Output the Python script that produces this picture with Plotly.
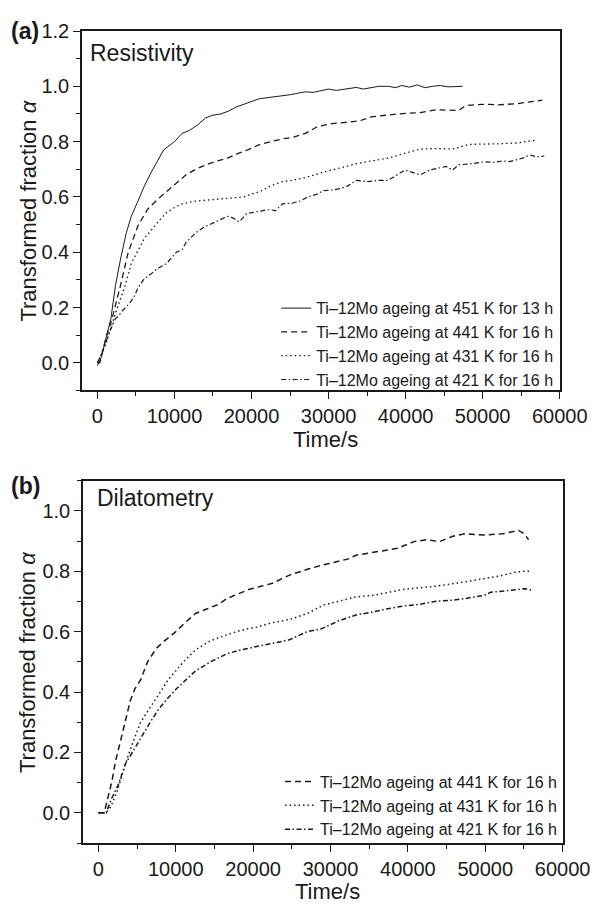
import plotly.graph_objects as go

# ---------------- Panel (a): Resistivity ----------------
t_a451 = [0, 500, 900, 1300, 1750, 2350, 3000, 3750, 4400, 5500, 6100, 7000, 8600, 10000, 11000, 11900,
          13000, 14000, 14900, 16000, 17000, 18000, 19000, 20000, 21000, 22400, 23500, 25100, 26000, 27000,
          28000, 29000, 30000, 31000, 32000, 33600, 34500, 35500, 36500, 37750, 38700, 39500, 40500, 41500,
          42500, 43500, 44500, 45500, 46500, 47400]
a_a451 = [-0.01, 0.02, 0.065, 0.11, 0.16, 0.28, 0.375, 0.47, 0.53, 0.60, 0.64, 0.69, 0.77, 0.80, 0.83, 0.84,
          0.86, 0.885, 0.895, 0.90, 0.91, 0.925, 0.935, 0.945, 0.955, 0.96, 0.963, 0.97, 0.975, 0.98,
          0.978, 0.985, 0.99, 0.985, 0.99, 0.996, 0.99, 0.995, 1.0, 1.0, 0.995, 1.003, 0.997, 1.005,
          0.995, 1.0, 1.003, 0.998, 1.0, 1.0]

t_a441 = [0, 300, 1100, 1900, 3000, 4000, 5250, 6500, 7750, 8600, 10000, 11500, 12750, 14000, 15500, 16900,
          18000, 19500, 21100, 22500, 24000, 25250, 27000, 28600, 30500, 32350, 34000, 35700, 37500, 39000,
          41900, 44000, 46900, 47750, 50000, 52000, 54400, 56000, 57750]
a_a441 = [0.0, 0.0, 0.09, 0.16, 0.28, 0.40, 0.495, 0.555, 0.59, 0.61, 0.645, 0.68, 0.70, 0.715, 0.73, 0.74,
          0.755, 0.77, 0.79, 0.80, 0.81, 0.815, 0.83, 0.855, 0.865, 0.87, 0.875, 0.89, 0.895, 0.90,
          0.905, 0.915, 0.913, 0.93, 0.935, 0.933, 0.937, 0.942, 0.95]

t_a431 = [0, 1000, 2350, 3600, 4400, 6100, 7750, 8800, 9900, 11000, 12750, 14000, 15500, 17000, 19000, 20000,
          21100, 22500, 24000, 25250, 27000, 29400, 31500, 33600, 35500, 37750, 39500, 41900, 44000, 46100,
          48200, 50250, 52000, 54400, 57100]
a_a431 = [0.0, 0.06, 0.18, 0.28, 0.36, 0.45, 0.505, 0.54, 0.56, 0.575, 0.585, 0.588, 0.59, 0.595, 0.60, 0.61,
          0.62, 0.64, 0.655, 0.66, 0.67, 0.69, 0.705, 0.72, 0.73, 0.74, 0.755, 0.773, 0.775, 0.773,
          0.79, 0.79, 0.792, 0.795, 0.806]

t_a421 = [0, 500, 1100, 1700, 2350, 2750, 3300, 4000, 4700, 5250, 6100, 6900, 7750, 9000, 10250, 11000, 11500,
          12750, 13800, 14900, 15800, 16900, 17500, 18400, 19400, 21100, 22400, 23100, 24000, 25250, 26300,
          27300, 28500, 29400, 30500, 31500, 32500, 33600, 35000, 36500, 37750, 39900, 41900, 43100, 45250,
          46100, 46900, 48500, 50250, 51500, 52500, 53500, 54400, 55200, 56100, 57000, 58000]
a_a421 = [0.0, 0.03, 0.075, 0.12, 0.16, 0.17, 0.19, 0.21, 0.235, 0.27, 0.305, 0.32, 0.34, 0.36, 0.40, 0.41, 0.435,
          0.47, 0.49, 0.505, 0.515, 0.53, 0.525, 0.51, 0.54, 0.55, 0.555, 0.55, 0.575, 0.577, 0.585,
          0.60, 0.61, 0.623, 0.625, 0.63, 0.64, 0.66, 0.655, 0.66, 0.66, 0.697, 0.68, 0.697, 0.71,
          0.697, 0.716, 0.72, 0.727, 0.725, 0.73, 0.728, 0.734, 0.74, 0.752, 0.745, 0.748]

# ---------------- Panel (b): Dilatometry ----------------
t_b441 = [0, 750, 1750, 2200, 2850, 3450, 4100, 4700, 5450, 6350, 7500, 8450, 10000, 11000, 12550, 14000,
          15500, 16650, 18000, 19500, 21000, 22500, 24700, 27200, 29700, 32200, 33300, 35800, 38700, 40800,
          42400, 44100, 45700, 47400, 49800, 52300, 53500, 54300, 55000, 55600]
a_b441 = [0.0, 0.0, 0.105, 0.17, 0.237, 0.30, 0.37, 0.41, 0.44, 0.50, 0.545, 0.567, 0.60, 0.625, 0.66, 0.675,
          0.69, 0.71, 0.725, 0.74, 0.75, 0.76, 0.787, 0.808, 0.825, 0.84, 0.853, 0.863, 0.876, 0.898,
          0.904, 0.898, 0.915, 0.924, 0.92, 0.924, 0.93, 0.935, 0.925, 0.904]

t_b431 = [0, 1000, 1600, 2400, 3000, 3850, 4700, 5450, 6350, 7600, 8000, 9000, 10000, 11000, 12550, 14500,
          16650, 18500, 20500, 22500, 24700, 27000, 29100, 31000, 33300, 35500, 37400, 39500, 41500, 43500,
          45700, 47500, 49800, 52000, 54000, 55000, 56000]
a_b431 = [0.0, 0.0, 0.02, 0.07, 0.12, 0.19, 0.25, 0.30, 0.335, 0.385, 0.40, 0.44, 0.47, 0.50, 0.54, 0.57,
          0.59, 0.605, 0.615, 0.63, 0.64, 0.66, 0.688, 0.70, 0.715, 0.72, 0.73, 0.74, 0.745, 0.75,
          0.758, 0.765, 0.775, 0.785, 0.797, 0.80, 0.80]

t_b421 = [0, 1000, 1750, 2600, 3450, 4700, 5950, 6700, 7700, 8800, 10050, 11700, 12550, 14500, 16650, 18500,
          20500, 22500, 24700, 27000, 28900, 31000, 33300, 35500, 37400, 39500, 41500, 43500, 45700, 47500,
          49800, 50700, 52500, 54000, 55200, 56000]
a_b421 = [0.0, 0.0, 0.05, 0.095, 0.16, 0.215, 0.27, 0.30, 0.34, 0.375, 0.41, 0.45, 0.47, 0.50, 0.527, 0.54,
          0.55, 0.56, 0.573, 0.60, 0.61, 0.635, 0.655, 0.665, 0.676, 0.685, 0.69, 0.70, 0.704, 0.71,
          0.72, 0.73, 0.735, 0.74, 0.742, 0.737]

names_a = ["Ti–12Mo ageing at 451 K for 13 h", "Ti–12Mo ageing at 441 K for 16 h",
           "Ti–12Mo ageing at 431 K for 16 h", "Ti–12Mo ageing at 421 K for 16 h"]
names_b = names_a[1:]

FONT = "Liberation Sans, Arial, Helvetica, sans-serif"
INK = "#1a1a1a"
DASH = "6px,4px"
DOT = "1.5px,3px"
DASHDOT = "5px,2.5px,1.5px,2.5px"

fig = go.Figure()

series_a = [(t_a451, a_a451, "solid", 1.0), (t_a441, a_a441, DASH, 1.3),
            (t_a431, a_a431, DOT, 1.3), (t_a421, a_a421, DASHDOT, 1.2)]
for (t, a, d, w), n in zip(series_a, names_a):
    fig.add_trace(go.Scatter(x=t, y=a, mode="lines", name=n, xaxis="x", yaxis="y",
                             line=dict(color=INK, width=w, dash=d), legend="legend"))

series_b = [(t_b441, a_b441, DASH, 1.5), (t_b431, a_b431, DOT, 1.5), (t_b421, a_b421, DASHDOT, 1.5)]
for (t, a, d, w), n in zip(series_b, names_b):
    fig.add_trace(go.Scatter(x=t, y=a, mode="lines", name=n, xaxis="x2", yaxis="y2",
                             line=dict(color=INK, width=w, dash=d), legend="legend2"))

axis_common = dict(showline=True, mirror=True, linecolor=INK, linewidth=1.5, ticks="outside",
                   ticklen=7, tickwidth=1.3, tickcolor=INK, showgrid=False, zeroline=False,
                   ticklabeloverflow="allow",
                   tickfont=dict(family=FONT, size=20, color=INK))

# the page body has an 8px default margin, so the figure is 16px smaller than the window
fig.update_layout(
    width=594, height=896, paper_bgcolor="white", plot_bgcolor="white",
    margin=dict(l=74, r=20, t=15, b=61),
    font=dict(family=FONT, color=INK),
    xaxis=dict(domain=[0, 0.994], range=[-2000, 60050], dtick=10000, tick0=0, tickformat="d", anchor="y",
               minor=dict(ticks="outside", dtick=5000, ticklen=4, tickcolor=INK), **axis_common),
    yaxis=dict(domain=[0.5573, 1.0], range=[-0.1, 1.2], dtick=0.2, tick0=0, tickformat=".1f", anchor="x",
               minor=dict(ticks="outside", dtick=0.1, ticklen=4, tickcolor=INK), **axis_common),
    xaxis2=dict(domain=[0.002, 1.0], range=[-2000, 60050], dtick=10000, tick0=0, tickformat="d", anchor="y2",
                minor=dict(ticks="outside", dtick=5000, ticklen=4, tickcolor=INK), **axis_common),
    yaxis2=dict(domain=[0, 0.4463], range=[-0.1, 1.1], dtick=0.2, tick0=0, tickformat=".1f", anchor="x2",
                minor=dict(ticks="outside", dtick=0.1, ticklen=4, tickcolor=INK), **axis_common),
    legend=dict(x=0.99, y=0.549, xanchor="right", yanchor="bottom", bgcolor="rgba(0,0,0,0)",
                font=dict(family=FONT, size=16, color=INK), tracegroupgap=0, itemwidth=30),
    legend2=dict(x=0.998, y=-0.0045, xanchor="right", yanchor="bottom", bgcolor="rgba(0,0,0,0)",
                 font=dict(family=FONT, size=16, color=INK), tracegroupgap=0, itemwidth=30),
    showlegend=True,
)

ann = [
    dict(text="<b>(a)</b>", x=-0.152, y=1.0, xanchor="left", yanchor="middle", font=dict(size=23)),
    dict(text="<b>(b)</b>", x=-0.152, y=0.4396, xanchor="left", yanchor="middle", font=dict(size=23)),
    dict(text="Resistivity", x=0.012, y=0.973, xanchor="left", yanchor="middle", font=dict(size=23)),
    dict(text="Dilatometry", x=0.026, y=0.4244, xanchor="left", yanchor="middle", font=dict(size=23)),
    dict(text="Time/s", x=0.506, y=0.497, xanchor="center", yanchor="middle", font=dict(size=22)),
    dict(text="Time/s", x=0.51, y=-0.0595, xanchor="center", yanchor="middle", font=dict(size=22)),
    dict(text="Transformed fraction <i>α</i>", x=-0.112, y=0.779, xanchor="center", yanchor="middle",
         textangle=-90, font=dict(size=22)),
    dict(text="Transformed fraction <i>α</i>", x=-0.112, y=0.223, xanchor="center", yanchor="middle",
         textangle=-90, font=dict(size=22)),
]
for a in ann:
    a.update(xref="paper", yref="paper", showarrow=False)
    a["font"].update(family=FONT, color=INK)
fig.update_layout(annotations=ann)

fig.write_html("out.html")
